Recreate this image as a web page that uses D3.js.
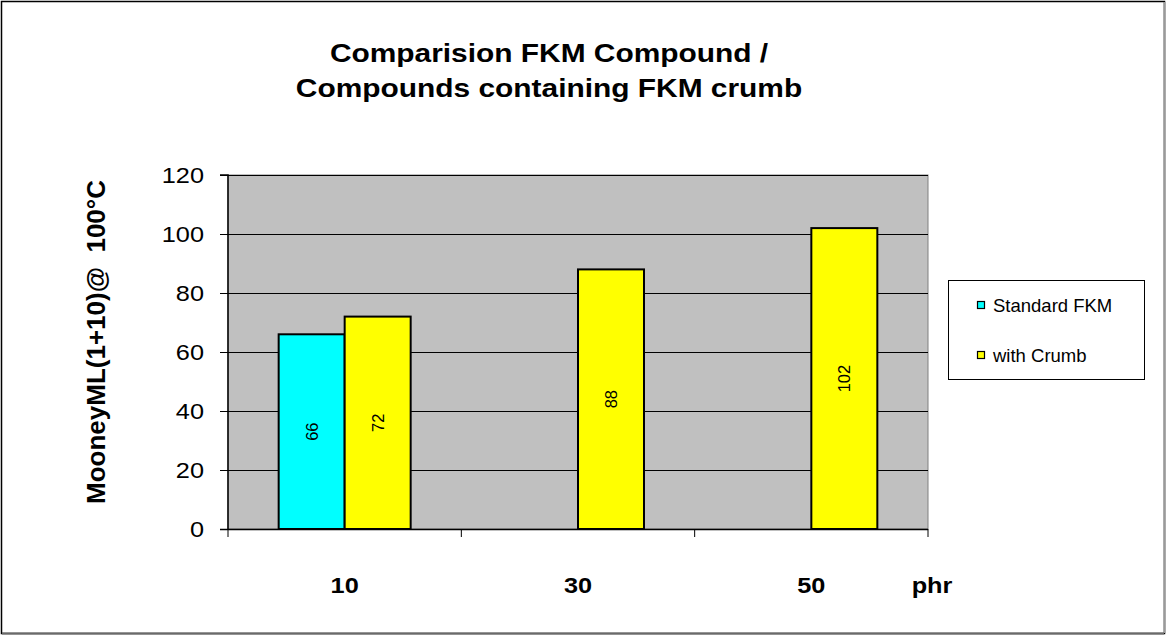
<!DOCTYPE html>
<html>
<head>
<meta charset="utf-8">
<script src="https://cdn.jsdelivr.net/npm/d3@7"></script>
<style>
  html, body { margin: 0; padding: 0; background: #fff; }
  svg { display: block; font-family: "Liberation Sans", Arial, sans-serif; }
</style>
</head>
<body>
<svg id="chart" width="1166" height="635"></svg>
<script>
// Mooney viscosity by crumb loading (phr)
const categories = ["10", "30", "50"];
const seriesNames = ["Standard FKM", "with Crumb"];
const standardFKM = [66, null, null];
const withCrumb = [72, 88, 102];
const yTicks = [0, 20, 40, 60, 80, 100, 120];
const colors = ["#00ffff", "#ffff00"];

const svg = d3.select("#chart");
const W = 1166, H = 635;
const WIDE = 1.15; // horizontal stretch of the lettering

// outer chart frame
svg.append("rect").attr("x", 1.5).attr("y", 1.5).attr("width", W - 3).attr("height", H - 3)
  .attr("fill", "#fff").attr("stroke", "#000").attr("stroke-width", 1.5);
svg.append("line").attr("x1", W - 1.5).attr("x2", W - 1.5).attr("y1", 2).attr("y2", H - 2)
  .attr("stroke", "#9a9a9a").attr("stroke-width", 2);
svg.append("line").attr("x1", 2).attr("x2", W - 2).attr("y1", H - 1.5).attr("y2", H - 1.5)
  .attr("stroke", "#6a6a6a").attr("stroke-width", 2);

const plot = { left: 228, right: 928, top: 175, bottom: 529 };

const x = d3.scaleBand().domain(categories).range([plot.left, plot.right]).paddingInner(0).paddingOuter(0);
const y = d3.scaleLinear().domain([0, 120]).range([plot.bottom, plot.top]);
const barW = 66;

// plot area
svg.append("rect").attr("x", plot.left).attr("y", plot.top)
  .attr("width", plot.right - plot.left).attr("height", plot.bottom - plot.top)
  .attr("fill", "#c0c0c0").attr("stroke", "#808080").attr("stroke-width", 1);

// gridlines
svg.append("g").selectAll("line").data(yTicks.filter(d => d > 0)).join("line")
  .attr("x1", plot.left).attr("x2", plot.right)
  .attr("y1", d => Math.round(y(d)) + 0.5).attr("y2", d => Math.round(y(d)) + 0.5)
  .attr("stroke", "#000").attr("stroke-width", 1);

// bars
const rows = categories.map((c, i) => ({ cat: c, vals: [standardFKM[i], withCrumb[i]] }));
const bars = [];
rows.forEach(r => r.vals.forEach((v, s) => { if (v != null) bars.push({ cat: r.cat, s, v }); }));

const barX = d => x(d.cat) + x.bandwidth() / 2 - barW + d.s * barW;

svg.append("g").selectAll("rect").data(bars).join("rect")
  .attr("x", barX)
  .attr("y", d => y(d.v))
  .attr("width", barW)
  .attr("height", d => y(0) - y(d.v))
  .attr("fill", d => colors[d.s])
  .attr("stroke", "#000").attr("stroke-width", 2);

// value labels, rotated inside each bar
svg.append("g").selectAll("text").data(bars).join("text")
  .attr("transform", d => `translate(${barX(d) + barW / 2},${(y(d.v) + y(0)) / 2}) rotate(-90)`)
  .attr("text-anchor", "middle").attr("dominant-baseline", "central")
  .attr("font-size", 16.5).attr("fill", "#000")
  .text(d => d.v);

// y axis
const yAxis = d3.axisLeft(y).tickValues(yTicks).tickSize(8).tickPadding(0);
const gy = svg.append("g").attr("transform", `translate(${plot.left},0)`).call(yAxis);
gy.select(".domain").attr("stroke", "#000").attr("stroke-width", 1.5).attr("d", `M-8,${plot.top}H0V${plot.bottom}`);
gy.selectAll(".tick line").attr("stroke", "#000");
gy.selectAll(".tick text").attr("x", 0).attr("font-size", 22).attr("fill", "#000")
  .attr("font-family", "Liberation Sans, Arial, sans-serif")
  .attr("transform", `translate(-24,0) scale(${WIDE},1)`);

// x axis: line with category-boundary ticks
svg.append("line").attr("x1", plot.left - 8).attr("x2", plot.right)
  .attr("y1", plot.bottom + 0.5).attr("y2", plot.bottom + 0.5)
  .attr("stroke", "#000").attr("stroke-width", 1.5);
const bounds = categories.map(c => x(c)).concat([x(categories[categories.length - 1]) + x.bandwidth()]);
svg.append("g").selectAll("line").data(bounds).join("line")
  .attr("x1", d => d).attr("x2", d => d)
  .attr("y1", plot.bottom).attr("y2", plot.bottom + 8)
  .attr("stroke", "#000").attr("stroke-width", 1);

svg.append("g").selectAll("text").data(categories).join("text")
  .attr("transform", d => `translate(${x(d) + x.bandwidth() / 2},593) scale(${WIDE},1)`)
  .attr("text-anchor", "middle").attr("font-size", 22).attr("font-weight", "bold")
  .text(d => d);

svg.append("text").attr("transform", `translate(932,593) scale(${WIDE},1)`).attr("text-anchor", "middle")
  .attr("font-size", 22).attr("font-weight", "bold").text("phr");

// y axis title
svg.append("text").attr("transform", "translate(105,342) rotate(-90)")
  .attr("text-anchor", "middle").attr("font-size", 26).attr("font-weight", "bold")
  .attr("xml:space", "preserve").style("white-space", "pre")
  .text("MooneyML(1+10)@  100°C");

// title
const title = svg.append("text").attr("text-anchor", "middle").attr("font-size", 26).attr("font-weight", "bold")
  .attr("transform", `translate(549,0) scale(${WIDE},1)`);
title.append("tspan").attr("x", 0).attr("y", 62).text("Comparision FKM Compound /");
title.append("tspan").attr("x", 0).attr("y", 97).text("Compounds containing FKM crumb");

// legend
const lg = svg.append("g");
lg.append("rect").attr("x", 948.5).attr("y", 280.5).attr("width", 196).attr("height", 99)
  .attr("fill", "#fff").attr("stroke", "#000").attr("stroke-width", 1);
const items = lg.selectAll("g.item").data(seriesNames).join("g")
  .attr("transform", (d, i) => `translate(977,${305 + i * 50})`);
items.append("rect").attr("x", 0.5).attr("y", -3.5).attr("width", 7).attr("height", 7)
  .attr("fill", (d, i) => colors[i]).attr("stroke", "#000").attr("stroke-width", 1.2);
items.append("text").attr("x", 16).attr("y", 0).attr("dominant-baseline", "central")
  .attr("font-size", 18.5).text(d => d);
</script>
</body>
</html>
